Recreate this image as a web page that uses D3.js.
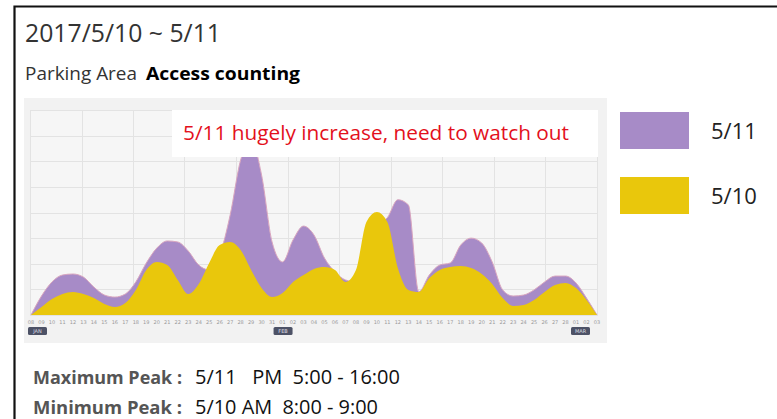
<!DOCTYPE html>
<html><head><meta charset="utf-8">
<script src="https://cdn.jsdelivr.net/npm/d3@7"></script>
<style>
html,body{margin:0;padding:0;background:#fff;}
svg{display:block;}
</style></head>
<body>
<script>
// ---- data ----
const dayLabels = ["08","09","10","11","12","13","14","15","16","17","18","19","20","21","22","23","24","25","26","27","28","29","30","31",
  "01","02","03","04","05","06","07","08","09","10","11","12","13","14","15","16","17","18","19","20","21","22","23","24","25","26","27","28",
  "01","02","03"];
const monthBadges = [{label:"JAN", index:0},{label:"FEB", index:24},{label:"MAR", index:54}];
const series511 = [0,7.4,12.9,15.6,16.0,14.8,10.9,7.8,7.0,8.2,12.9,20.3,26.1,28.9,28.5,25.0,19.5,17.6,23.4,39.0,60.5,68.3,54.6,28.5,20.7,29.3,34.7,31.2,22.2,16.8,13.7,12.9,25.4,35.1,38.0,45.0,43.0,9.0,15.6,19.5,20.3,27.3,30.0,28.1,20.7,9.8,7.4,7.8,9.8,12.9,15.2,15.2,12.5,6.6,0];
const series510 = [0,3.1,6.2,8.2,9.0,8.2,6.6,4.3,3.1,4.7,9.8,17.6,20.7,19.5,13.7,8.2,12.1,20.3,27.3,28.5,25.4,17.6,10.5,7.0,8.6,12.9,15.6,18.0,18.7,17.6,12.9,17.6,36.3,40.2,36.3,18.3,9.8,9.0,14.4,17.6,18.7,19.1,18.3,16.0,12.1,6.6,3.5,3.9,5.9,9.0,11.7,12.5,10.5,5.9,0];
const legendItems = [{name:"5/11", color:"#a78bc7"},{name:"5/10", color:"#e9c70c"}];
const yMax = 80;

// ---- layout ----
const W = 777, H = 419;
const FONT = "'Open Sans', 'Noto Sans', sans-serif";
const svg = d3.select("body").append("svg").attr("width", W).attr("height", H);

// frame
svg.append("path").attr("d", "M14.5,419 L14.5,6.5 L777,6.5").attr("fill","none").attr("stroke","#111").attr("stroke-width",2.2);

// title
svg.append("text").attr("x",25).attr("y",42).attr("font-family",FONT)
  .attr("font-size",25).attr("fill","#333").attr("textLength",196).attr("lengthAdjust","spacingAndGlyphs").text("2017/5/10 ~ 5/11");
svg.append("text").attr("x",25).attr("y",80).attr("font-family",FONT).attr("font-size",17.5).attr("fill","#333")
  .attr("textLength",112).attr("lengthAdjust","spacingAndGlyphs").text("Parking Area");
svg.append("text").attr("x",146).attr("y",80).attr("font-family",FONT).attr("font-size",17.5).attr("font-weight","bold").attr("fill","#000")
  .attr("textLength",154).attr("lengthAdjust","spacingAndGlyphs").text("Access counting");

// panel
svg.append("rect").attr("x",24).attr("y",98).attr("width",583).attr("height",245).attr("fill","#f2f2f2");
const x0 = 30, x1 = 598, yTop = 110, yBase = 315;
svg.append("rect").attr("x",x0).attr("y",yTop).attr("width",x1-x0).attr("height",yBase-yTop).attr("fill","#f6f6f6");

const x = d3.scalePoint().domain(d3.range(dayLabels.length)).range([31, 597]);
const y = d3.scaleLinear().domain([0, yMax]).range([yBase, yTop]);
const gx = d3.scaleLinear().domain([0, 11]).range([x0, 596.5]);

// grid
const grid = svg.append("g").attr("stroke","#e3e3e3").attr("stroke-width",1);
grid.selectAll("line.h").data(y.ticks(8)).join("line").attr("class","h")
  .attr("x1",x0).attr("x2",x1).attr("y1",d=>Math.round(y(d))+0.5).attr("y2",d=>Math.round(y(d))+0.5);
grid.selectAll("line.v").data(d3.range(0,12)).join("line").attr("class","v")
  .attr("x1",d=>Math.round(gx(d))+0.5).attr("x2",d=>Math.round(gx(d))+0.5).attr("y1",yTop).attr("y2",yBase);

// areas
const area = d3.area().x((d,i)=>x(i)).y0(yBase).y1(d=>y(d)).curve(d3.curveMonotoneX);
const line = d3.line().x((d,i)=>x(i)).y(d=>y(d)).curve(d3.curveMonotoneX);
svg.append("path").datum(series511).attr("d",area).attr("fill",legendItems[0].color);
svg.append("path").datum(series511).attr("d",line).attr("fill","none").attr("stroke","#d9a6bf").attr("stroke-width",1);
svg.append("path").datum(series510).attr("d",area).attr("fill",legendItems[1].color);

// x axis labels
svg.append("g").selectAll("text").data(dayLabels).join("text")
  .attr("x",(d,i)=>x(i)).attr("y",324).attr("text-anchor","middle")
  .attr("font-family","'DejaVu Sans', sans-serif").attr("font-size",5).attr("fill","#9a9a9a").text(d=>d);
const badges = svg.append("g").selectAll("g").data(monthBadges).join("g")
  .attr("transform",d=>`translate(${Math.min(Math.max(x(d.index)-9, 28), 571)},327)`);
badges.append("rect").attr("width",19).attr("height",8).attr("rx",1.5).attr("fill","#4d5266");
badges.append("text").attr("x",9.5).attr("y",6).attr("text-anchor","middle").attr("font-family","'DejaVu Sans', sans-serif")
  .attr("font-size",5).attr("fill","#dcdde3").text(d=>d.label);

// annotation
svg.append("rect").attr("x",172).attr("y",110).attr("width",426).attr("height",47).attr("fill","#fff");
svg.append("text").attr("x",183).attr("y",140).attr("font-family",FONT)
  .attr("font-size",20.5).attr("fill","#e3101c").attr("textLength",386).attr("lengthAdjust","spacingAndGlyphs")
  .text("5/11 hugely increase,  need to watch out");

// legend
const lg = svg.append("g").selectAll("g").data(legendItems).join("g")
  .attr("transform",(d,i)=>`translate(620,${112 + i*65})`);
lg.append("rect").attr("width",69).attr("height",37).attr("fill",d=>d.color);
lg.append("text").attr("x",91).attr("y",27).attr("font-family",FONT)
  .attr("font-size",22).attr("fill","#222").text(d=>d.name);

// footer
const foot = [{k:"Maximum Peak :", v:"5/11   PM  5:00 - 16:00", y:384, w:205},{k:"Minimum Peak :", v:"5/10 AM  8:00 - 9:00", y:414, w:183}];
const fg = svg.append("g").selectAll("g").data(foot).join("g");
fg.append("text").attr("x",33).attr("y",d=>d.y).attr("font-family",FONT)
  .attr("font-size",17.5).attr("font-weight","bold").attr("fill","#555")
  .attr("textLength",149).attr("lengthAdjust","spacingAndGlyphs").text(d=>d.k);
fg.append("text").attr("x",195).attr("y",d=>d.y).attr("font-family",FONT)
  .attr("font-size",19.5).attr("fill","#111").style("white-space","pre")
  .attr("textLength",d=>d.w).attr("lengthAdjust","spacingAndGlyphs").text(d=>d.v);
</script>
</body></html>
